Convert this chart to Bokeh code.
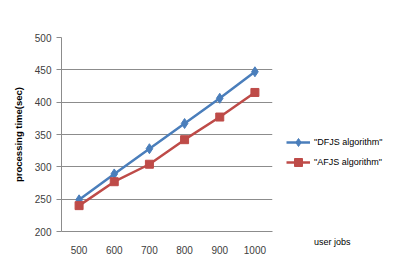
from bokeh.plotting import figure
from bokeh.models import ColumnDataSource, Legend, LegendItem, FixedTicker, Range1d, FactorRange
from bokeh.embed import file_html
from bokeh.resources import INLINE

jobs = ["500", "600", "700", "800", "900", "1000"]
dfjs = [249, 289, 328, 367, 406, 447]
afjs = [240, 277, 304, 342, 377, 415]
y_ticks = [200, 250, 300, 350, 400, 450, 500]

src = ColumnDataSource(dict(x=jobs, d=dfjs, a=afjs))

p = figure(x_range=FactorRange(*jobs), y_range=Range1d(200, 500),
           width=390, height=262, output_backend="svg", toolbar_location=None,
           min_border_left=61, min_border_top=37, min_border_right=118, min_border_bottom=31)
p.frame_width = 211
p.frame_height = 194
p.outline_line_color = None
p.background_fill_color = "white"
p.border_fill_color = "white"

blue = "#4a7ebb"
red = "#be4b48"
l1 = p.line("x", "d", source=src, color=blue, line_width=2.5)
m1 = p.scatter("x", "d", source=src, marker="diamond", size=10, color=blue)
l2 = p.line("x", "a", source=src, color=red, line_width=2.5)
m2 = p.scatter("x", "a", source=src, marker="square", size=8, color=red)

p.xgrid.grid_line_color = None
p.ygrid.grid_line_color = "#8c8c8c"
p.ygrid.grid_line_width = 1
p.yaxis.ticker = FixedTicker(ticks=y_ticks)

font = "Liberation Sans"
for ax in (p.xaxis[0], p.yaxis[0]):
    ax.axis_line_color = "#8c8c8c"
    ax.major_label_text_font = font
    ax.major_label_text_font_size = "10px"
    ax.major_label_text_color = "#404040"
    ax.minor_tick_line_color = None
p.xaxis.major_tick_line_color = None
p.xaxis.major_label_standoff = 8
p.yaxis.major_tick_line_color = "#8c8c8c"
p.yaxis.major_tick_in = 0
p.yaxis.major_tick_out = 5
p.yaxis.major_label_standoff = 5
p.yaxis.axis_label = "processing time(sec)"
p.yaxis.axis_label_text_font = font
p.yaxis.axis_label_text_font_size = "9.5px"
p.yaxis.axis_label_text_font_style = "bold"
p.yaxis.axis_label_text_color = "#000000"
p.yaxis.axis_label_standoff = 8

legend = Legend(items=[LegendItem(label='"DFJS algorithm"', renderers=[l1, m1]),
                       LegendItem(label='"AFJS algorithm"', renderers=[l2, m2]),
                       LegendItem(label=" ", renderers=[]),
                       LegendItem(label=" ", renderers=[]),
                       LegendItem(label=" ", renderers=[]),
                       LegendItem(label="user jobs", renderers=[])],
                location=(14, -21), border_line_color=None, background_fill_alpha=0,
                inactive_fill_alpha=0,
                label_text_font=font, label_text_font_size="9px", label_text_color="#000000",
                glyph_width=24, spacing=0, padding=2, label_standoff=4, margin=0)
p.add_layout(legend, "right")

open("out.html", "w").write(file_html(p, INLINE))
